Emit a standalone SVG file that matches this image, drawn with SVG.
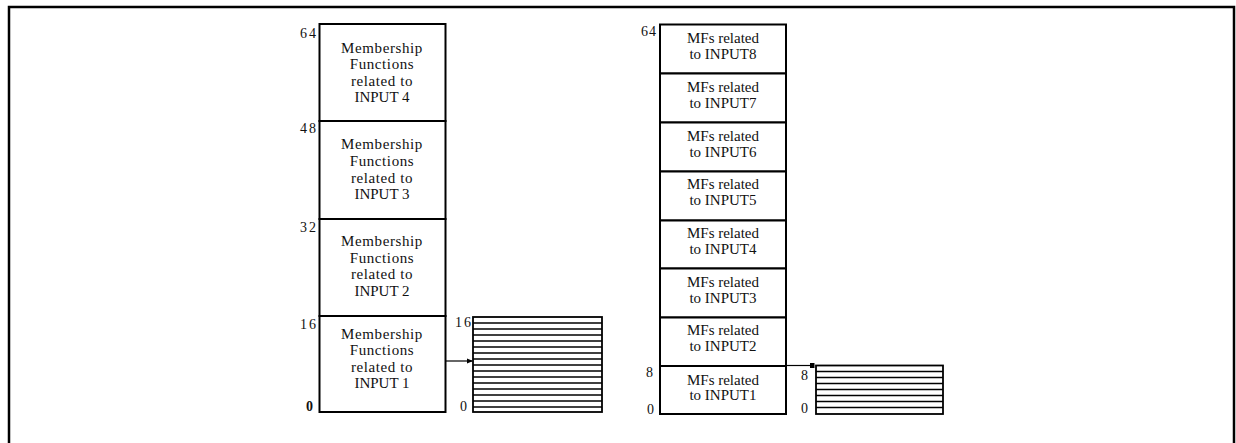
<svg xmlns="http://www.w3.org/2000/svg" width="1236" height="443" viewBox="0 0 1236 443">
<style>
.box{fill:#fff;stroke:#000;stroke-width:2}
.reg{fill:#fff;stroke:#000;stroke-width:1.8}
.rl{stroke:#000;stroke-width:1.3}
.t{font-family:"Liberation Serif","Times New Roman",serif;font-size:15px;fill:#111;text-anchor:middle}
.tl{letter-spacing:0.6px}
.n{font-family:"Liberation Serif","Times New Roman",serif;font-size:14px;fill:#111}
.c{stroke:#000;stroke-width:1.2;fill:none}
</style>
<defs>
<marker id="ah" markerWidth="6" markerHeight="6" refX="5" refY="3" orient="auto" markerUnits="userSpaceOnUse">
<path d="M0,0.5 L6,3 L0,5.5 Z" fill="#000"/>
</marker>
<marker id="sq" markerWidth="5" markerHeight="5" refX="2.5" refY="2.5" orient="auto" markerUnits="userSpaceOnUse">
<rect x="0" y="0" width="5" height="5" fill="#000"/>
</marker>
</defs>
<rect x="1" y="1" width="1234" height="441" fill="#fff" stroke="none"/>
<path d="M9,450 L9,7 L1234,7 L1234,450" fill="none" stroke="#000" stroke-width="2.5"/>

<g id="left-stack">
<g id="L-input4">
<rect class="box" x="319.5" y="24" width="126" height="97"/>
<text class="t tl" x="382" y="53">Membership</text>
<text class="t tl" x="382" y="69">Functions</text>
<text class="t tl" x="382" y="86">related to</text>
<text class="t" x="382" y="102">INPUT 4</text>
</g>
<g id="L-input3">
<rect class="box" x="319.5" y="121" width="126" height="98"/>
<text class="t tl" x="382" y="149">Membership</text>
<text class="t tl" x="382" y="166">Functions</text>
<text class="t tl" x="382" y="183">related to</text>
<text class="t" x="382" y="199">INPUT 3</text>
</g>
<g id="L-input2">
<rect class="box" x="319.5" y="219" width="126" height="97"/>
<text class="t tl" x="382" y="246">Membership</text>
<text class="t tl" x="382" y="263">Functions</text>
<text class="t tl" x="382" y="279">related to</text>
<text class="t" x="382" y="296">INPUT 2</text>
</g>
<g id="L-input1">
<rect class="box" x="319.5" y="316" width="126" height="96"/>
<text class="t tl" x="382" y="339">Membership</text>
<text class="t tl" x="382" y="355">Functions</text>
<text class="t tl" x="382" y="372">related to</text>
<text class="t" x="382" y="388">INPUT 1</text>
</g>
<g id="L-labels">
<text class="n" x="300" y="38" letter-spacing="2">64</text>
<text class="n" x="300" y="133" letter-spacing="2">48</text>
<text class="n" x="300" y="232" letter-spacing="2">32</text>
<text class="n" x="300" y="329" letter-spacing="2">16</text>
<text class="n" x="306" y="411" font-weight="bold" font-size="15">0</text>
</g>
</g>

<g id="left-register">
<rect class="reg" x="473" y="317" width="129" height="95"/>
<g>
<line class="rl" x1="473" x2="602" y1="323" y2="323"/>
<line class="rl" x1="473" x2="602" y1="329" y2="329"/>
<line class="rl" x1="473" x2="602" y1="335" y2="335"/>
<line class="rl" x1="473" x2="602" y1="341" y2="341" stroke="#666"/>
<line class="rl" x1="473" x2="602" y1="347" y2="347"/>
<line class="rl" x1="473" x2="602" y1="353" y2="353"/>
<line class="rl" x1="473" x2="602" y1="359" y2="359" stroke-width="1.8"/>
<line class="rl" x1="473" x2="602" y1="365" y2="365"/>
<line class="rl" x1="473" x2="602" y1="371" y2="371"/>
<line class="rl" x1="473" x2="602" y1="377" y2="377"/>
<line class="rl" x1="473" x2="602" y1="383" y2="383" stroke-width="1.8"/>
<line class="rl" x1="473" x2="602" y1="389" y2="389"/>
<line class="rl" x1="473" x2="602" y1="395" y2="395"/>
<line class="rl" x1="473" x2="602" y1="401" y2="401"/>
<line class="rl" x1="473" x2="602" y1="407" y2="407"/>
</g>
<text class="n" x="455" y="327" letter-spacing="2">16</text>
<text class="n" x="460" y="411">0</text>
</g>

<g id="right-stack">
<g id="R-input8"><rect class="box" x="660" y="24.5" width="126" height="49"/>
<text class="t" x="723" y="43">MFs related</text><text class="t" x="723" y="59">to INPUT8</text></g>
<g id="R-input7"><rect class="box" x="660" y="73.5" width="126" height="49"/>
<text class="t" x="723" y="92">MFs related</text><text class="t" x="723" y="108">to INPUT7</text></g>
<g id="R-input6"><rect class="box" x="660" y="122.5" width="126" height="49"/>
<text class="t" x="723" y="141">MFs related</text><text class="t" x="723" y="157">to INPUT6</text></g>
<g id="R-input5"><rect class="box" x="660" y="171.5" width="126" height="49"/>
<text class="t" x="723" y="189">MFs related</text><text class="t" x="723" y="205">to INPUT5</text></g>
<g id="R-input4"><rect class="box" x="660" y="220.5" width="126" height="48"/>
<text class="t" x="723" y="238">MFs related</text><text class="t" x="723" y="254">to INPUT4</text></g>
<g id="R-input3"><rect class="box" x="660" y="268.5" width="126" height="49"/>
<text class="t" x="723" y="287">MFs related</text><text class="t" x="723" y="303">to INPUT3</text></g>
<g id="R-input2"><rect class="box" x="660" y="317.5" width="126" height="48.5"/>
<text class="t" x="723" y="335">MFs related</text><text class="t" x="723" y="351">to INPUT2</text></g>
<g id="R-input1"><rect class="box" x="660" y="366" width="126" height="48"/>
<text class="t" x="723" y="385">MFs related</text><text class="t" x="723" y="400">to INPUT1</text></g>
<g id="R-labels">
<text class="n" x="641" y="36" letter-spacing="1">64</text>
<text class="n" x="646" y="377">8</text>
<text class="n" x="647" y="414">0</text>
</g>
</g>

<g id="right-register">
<rect class="reg" x="816" y="365.5" width="127" height="48.5"/>
<line class="rl" x1="816" x2="943" y1="371.5" y2="371.5"/>
<line class="rl" x1="816" x2="943" y1="377.5" y2="377.5"/>
<line class="rl" x1="816" x2="943" y1="383.5" y2="383.5"/>
<line class="rl" x1="816" x2="943" y1="389.5" y2="389.5" stroke="#666"/>
<line class="rl" x1="816" x2="943" y1="395.5" y2="395.5"/>
<line class="rl" x1="816" x2="943" y1="401.5" y2="401.5" stroke-width="1.8"/>
<line class="rl" x1="816" x2="943" y1="407.5" y2="407.5"/>
<text class="n" x="801" y="380">8</text>
<text class="n" x="801" y="413">0</text>
</g>

<g id="connectors">
<line class="c" x1="446" y1="361" x2="472" y2="361" marker-end="url(#ah)"/>
<line class="c" x1="786" y1="365.5" x2="812" y2="365.5" marker-end="url(#sq)"/>
</g>
</svg>
